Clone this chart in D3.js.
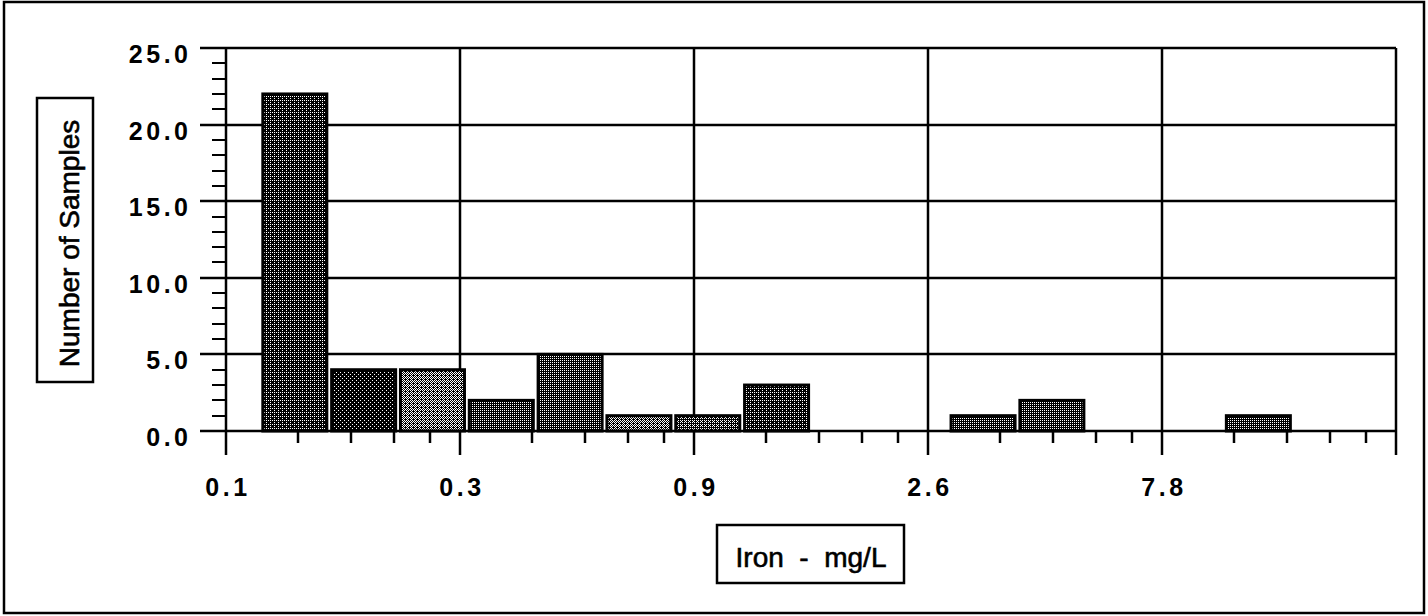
<!DOCTYPE html>
<html>
<head>
<meta charset="utf-8">
<script src="https://cdn.jsdelivr.net/npm/d3@7/dist/d3.min.js"></script>
<style>
  html, body { margin: 0; padding: 0; background: #fff; }
  svg { display: block; }
  text { font-family: "Liberation Sans", Arial, Helvetica, sans-serif; fill: #000; }
</style>
</head>
<body>
<svg id="chart" width="1428" height="616"></svg>
<script>
// ---------------- DATA ----------------
// Number of samples in each concentration bin (left to right)
const binCounts = [22, 4, 4, 2, 5, 1, 1, 3, 0, 0, 1, 2, 0, 0, 1, 0];
// Labelled major ticks of the iron axis (mg/L) and their labels
const majorTickValues = [0.1, 0.3, 0.9, 2.7, 8.1, 24.3];
const majorTickLabels = ["0.1", "0.3", "0.9", "2.6", "7.8", ""];
// Minor tick multipliers inside each major interval
const minorTickFactors = [1.4, 1.8, 2.2, 2.6];
// Y axis ticks
const yMajorTicks = [0, 5, 10, 15, 20, 25];
const yMinorTicks = d3.range(0, 26).filter(v => v % 5 !== 0);
const yTitle = "Number of Samples";
const xTitle = "Iron  -  mg/L";

// ---------------- STYLE ----------------
// dither density (white pixels per 4x4 cell) for each bar
const barTone = [3, 2, 7, 4, 4, 7, 5, 3, 0, 0, 4, 4, 0, 0, 4, 0];

const svg = d3.select("#chart");
const plot = { left: 226, right: 1396, top: 48, bottom: 431 };

// outer frame
svg.append("rect").attr("x", 4).attr("y", 2).attr("width", 1420).attr("height", 611)
  .attr("fill", "none").attr("stroke", "#000").attr("stroke-width", 2.5);

// dither patterns
const bayer = [[0, 8, 2, 10], [12, 4, 14, 6], [3, 11, 1, 9], [15, 7, 13, 5]];
const defs = svg.append("defs");
Array.from(new Set(barTone)).forEach(n => {
  const p = defs.append("pattern").attr("id", "tone" + n)
    .attr("patternUnits", "userSpaceOnUse").attr("width", 4).attr("height", 4);
  p.append("rect").attr("width", 4).attr("height", 4).attr("fill", "#000");
  for (let r = 0; r < 4; r++) for (let c = 0; c < 4; c++) {
    if (bayer[r][c] < n) p.append("rect").attr("x", c).attr("y", r).attr("width", 1).attr("height", 1).attr("fill", "#fff");
  }
});

// scales
const y = d3.scaleLinear().domain([0, 25]).range([plot.bottom, plot.top]);
const xTick = d3.scaleLog().domain([majorTickValues[0], majorTickValues[majorTickValues.length - 1]])
  .range([plot.left, plot.right]);
const xBin = d3.scaleLinear().domain([0, binCounts.length + 1]).range([plot.left, plot.right]);

const g = svg.append("g");

// horizontal grid lines (extend left as major ticks)
g.selectAll("line.hgrid").data(yMajorTicks).join("line")
  .attr("x1", plot.left - 26).attr("x2", plot.right)
  .attr("y1", d => Math.round(y(d))).attr("y2", d => Math.round(y(d)))
  .attr("stroke", "#000").attr("stroke-width", 2.5);

// vertical grid lines at major x ticks (extend below axis)
g.selectAll("line.vgrid").data(majorTickValues).join("line")
  .attr("x1", d => Math.round(xTick(d))).attr("x2", d => Math.round(xTick(d)))
  .attr("y1", plot.top).attr("y2", plot.bottom + 24)
  .attr("stroke", "#000").attr("stroke-width", 2.5);

// minor y ticks
g.selectAll("line.ymin").data(yMinorTicks).join("line")
  .attr("x1", plot.left - 14).attr("x2", plot.left)
  .attr("y1", d => Math.round(y(d))).attr("y2", d => Math.round(y(d)))
  .attr("stroke", "#000").attr("stroke-width", 2);

// minor x ticks
const minorX = [];
majorTickValues.slice(0, -1).forEach(m => minorTickFactors.forEach(f => minorX.push(m * f)));
g.selectAll("line.xmin").data(minorX).join("line")
  .attr("x1", d => Math.round(xTick(d))).attr("x2", d => Math.round(xTick(d)))
  .attr("y1", plot.bottom).attr("y2", plot.bottom + 12)
  .attr("stroke", "#000").attr("stroke-width", 2.5);

// bars
const bw = xBin(0.93) - xBin(0);
g.selectAll("rect.bar").data(binCounts.map((v, i) => ({ v, i }))).join("rect")
  .filter(d => d.v > 0)
  .attr("x", d => xBin(d.i + 1) - bw / 2)
  .attr("y", d => y(d.v))
  .attr("width", bw)
  .attr("height", d => y(0) - y(d.v))
  .attr("fill", d => "url(#tone" + barTone[d.i] + ")")
  .attr("stroke", "#000").attr("stroke-width", 3);

// y tick labels
g.selectAll("text.ylab").data(yMajorTicks).join("text")
  .attr("x", plot.left - 38 + 3.5).attr("y", d => y(d) + 15)
  .attr("text-anchor", "end")
  .style("font-size", "25px").style("font-weight", "bold").style("letter-spacing", "3.5px")
  .text(d => d3.format(".1f")(d));

// x tick labels
g.selectAll("text.xlab").data(majorTickValues.map((v, i) => ({ v, label: majorTickLabels[i] }))).join("text")
  .attr("x", d => xTick(d.v) + 2).attr("y", 496)
  .attr("text-anchor", "middle")
  .style("font-size", "25px").style("font-weight", "bold").style("letter-spacing", "3.5px")
  .text(d => d.label);

// Y title in box
svg.append("rect").attr("x", 37).attr("y", 98).attr("width", 56).attr("height", 284)
  .attr("fill", "#fff").attr("stroke", "#000").attr("stroke-width", 2.5);
svg.append("text")
  .attr("transform", "translate(79,243.5) rotate(-90)")
  .attr("text-anchor", "middle")
  .style("font-size", "28px").style("stroke", "#000").style("stroke-width", "0.6px")
  .text(yTitle);

// X title in box
svg.append("rect").attr("x", 717).attr("y", 525).attr("width", 187).attr("height", 58)
  .attr("fill", "#fff").attr("stroke", "#000").attr("stroke-width", 2.5);
svg.append("text")
  .attr("x", 811).attr("y", 567)
  .attr("text-anchor", "middle")
  .style("font-size", "28px").style("white-space", "pre").style("stroke", "#000").style("stroke-width", "0.6px")
  .text(xTitle);
</script>
</body>
</html>
